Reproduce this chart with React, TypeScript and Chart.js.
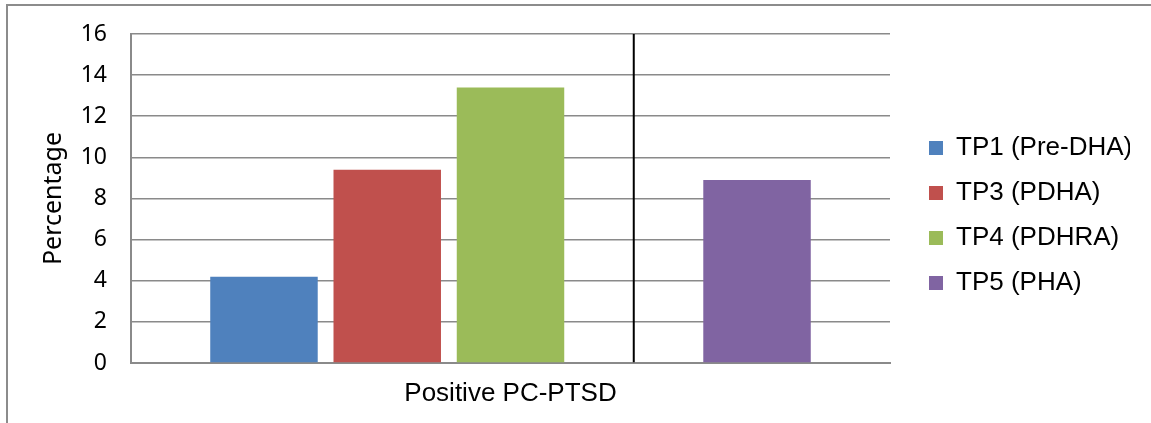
import React, { useEffect, useRef } from 'react';
import { Chart, registerables } from 'chart.js';

Chart.register(...registerables);

// ---- data ----
const categories = ['Positive PC-PTSD'];
const seriesLabels = ['TP1 (Pre-DHA)', 'TP3 (PDHA)', 'TP4 (PDHRA)', 'TP5 (PHA)'];
const tp1Values = [4.2];
const tp3Values = [9.4];
const tp4Values = [13.4];
const tp5Values = [8.9];
const dividerRange: [number, number][] = [[0, 16]];
const seriesColors = ['#4F81BD', '#C0504D', '#9BBB59', '#8064A2'];
const yTickMin = 0;
const yTickMax = 16;
const yTickStep = 2;
const yAxisTitle = 'Percentage';

// ---- style constants ----
const W = 1151;
const H = 423;
const GRID = '#8a8a8a';
const CAT_PCT = 0.812;
const BAR_PCT = 0.872;

const legendShift = {
  id: 'legendShift',
  afterLayout(chart: any) {
    const l = chart.legend;
    if (!l) return;
    l.left += 20;
    l.right += 20;
    l.top -= 13;
    l.bottom -= 13;
  },
};

export default function App() {
  const ref = useRef<HTMLCanvasElement | null>(null);

  useEffect(() => {
    if (!ref.current) return;
    const barCommon = { categoryPercentage: CAT_PCT, barPercentage: BAR_PCT, borderWidth: 0 };
    const chart = new Chart(ref.current, {
      type: 'bar',
      data: {
        labels: categories,
        datasets: [
          { label: seriesLabels[0], data: tp1Values, backgroundColor: seriesColors[0], ...barCommon },
          { label: seriesLabels[1], data: tp3Values, backgroundColor: seriesColors[1], ...barCommon },
          { label: seriesLabels[2], data: tp4Values, backgroundColor: seriesColors[2], ...barCommon },
          { label: '', data: dividerRange as any, backgroundColor: '#000000', maxBarThickness: 2, ...barCommon },
          { label: seriesLabels[3], data: tp5Values, backgroundColor: seriesColors[3], ...barCommon },
        ],
      },
      options: {
        responsive: false,
        animation: false,
        devicePixelRatio: 1,
        layout: { padding: { top: 34, right: 41, bottom: 0, left: 0 } },
        plugins: {
          tooltip: { enabled: false },
          title: { display: false },
          legend: {
            display: true,
            position: 'right',
            maxWidth: 220,
            labels: {
              boxWidth: 14,
              boxHeight: 14,
              padding: 19,
              color: '#000000',
              font: { family: "'Liberation Sans', Arial, sans-serif", size: 26 },
              filter: (item: any) => item.text !== '',
            },
          },
        },
        scales: {
          x: {
            offset: true,
            grid: { display: false, drawTicks: false },
            border: { display: true, color: GRID, width: 2 },
            ticks: {
              padding: 15,
              color: '#000000',
              font: { family: "'Liberation Sans', Arial, sans-serif", size: 26 },
            },
            afterFit: (s: any) => {
              s.height = 60;
            },
          },
          y: {
            min: yTickMin,
            max: yTickMax,
            grid: { color: GRID, lineWidth: 1.6, drawTicks: false },
            border: { display: true, color: GRID, width: 2 },
            ticks: {
              stepSize: yTickStep,
              padding: 24,
              color: '#000000',
              font: { family: "'Noto Sans', sans-serif", size: 23, lineHeight: 0.87 },
            },
            title: {
              display: true,
              text: yAxisTitle,
              color: '#000000',
              font: { family: "'Noto Sans', sans-serif", size: 25 },
              padding: { top: 39, bottom: 0 },
            },
            afterFit: (s: any) => {
              s.width = 131;
            },
          },
        },
      },
      plugins: [legendShift],
    });
    return () => chart.destroy();
  }, []);

  return (
    <div style={{ position: 'absolute', left: 0, top: 0, width: W, height: H, background: '#ffffff', overflow: 'hidden' }}>
      <div
        style={{
          position: 'absolute',
          left: 6,
          top: 4,
          width: W,
          height: H,
          borderLeft: '2px solid #8c8c8c',
          borderTop: '2px solid #8c8c8c',
        }}
      />
      <canvas ref={ref} width={W} height={H} style={{ position: 'absolute', left: 0, top: 0, width: W, height: H }} />
    </div>
  );
}
